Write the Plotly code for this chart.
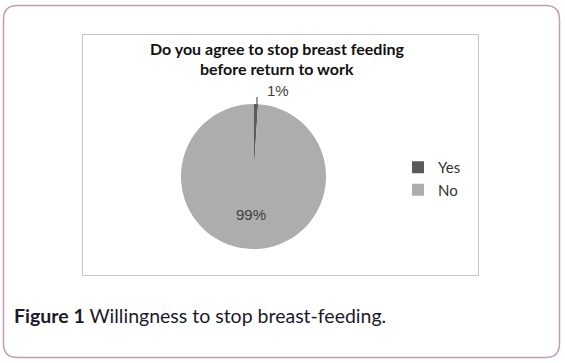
import plotly.graph_objects as go

labels = ["Yes", "No"]
values = [1, 99]
colors = ["#5a5a5a", "#adadad"]
title_lines = ["Do you agree to stop breast feeding", "before return to work"]
caption_bold = "Figure 1"
caption_rest = "Willingness to stop breast-feeding."

W, H = 565, 363


def px(x):
    return x / W


def py(y):
    return 1 - y / H


total = sum(values)
pct = [f"{round(v / total * 100)}%" for v in values]

fig = go.Figure(
    go.Pie(
        labels=labels,
        values=values,
        marker=dict(colors=colors, line=dict(width=0)),
        sort=False,
        direction="clockwise",
        rotation=0,
        textinfo="none",
        hoverinfo="label+percent",
        domain=dict(x=[px(180), px(327)], y=[py(249), py(104)]),
    )
)

# outer rounded frame
L, T, R, B, r = 3.5, 5.5, 559.5, 357.5, 14
path = (
    f"M {px(L + r)},{py(T)} L {px(R - r)},{py(T)} Q {px(R)},{py(T)} {px(R)},{py(T + r)} "
    f"L {px(R)},{py(B - r)} Q {px(R)},{py(B)} {px(R - r)},{py(B)} "
    f"L {px(L + r)},{py(B)} Q {px(L)},{py(B)} {px(L)},{py(B - r)} "
    f"L {px(L)},{py(T + r)} Q {px(L)},{py(T)} {px(L + r)},{py(T)} Z"
)
shapes = [
    dict(type="path", xref="paper", yref="paper", path=path,
         line=dict(color="#c49bb6", width=1.5)),
    dict(type="rect", xref="paper", yref="paper",
         x0=px(82.5), x1=px(478.5), y0=py(275.5), y1=py(34.5),
         line=dict(color="#c4c4c4", width=1)),
    # leader line for small slice label
    dict(type="line", xref="paper", yref="paper",
         x0=px(257), x1=px(257), y0=py(97), y1=py(106),
         line=dict(color="#5a5a5a", width=1.2)),
]

label_font = dict(family="Liberation Sans, Arial", size=15, color="#404040")
title_font = dict(family="Lato", size=16, color="#111111")
annotations = [
    dict(text=f"<b>{title_lines[0]}</b>", x=px(277), y=py(48.5), xref="paper", yref="paper",
         showarrow=False, font=title_font, xanchor="center", yanchor="middle"),
    dict(text=f"<b>{title_lines[1]}</b>", x=px(277), y=py(68.5), xref="paper", yref="paper",
         showarrow=False, font=title_font, xanchor="center", yanchor="middle"),
    dict(text=pct[0], x=px(278), y=py(90), xref="paper", yref="paper",
         showarrow=False, font=label_font, xanchor="center", yanchor="middle"),
    dict(text=pct[1], x=px(251), y=py(214), xref="paper", yref="paper",
         showarrow=False, font=label_font, xanchor="center", yanchor="middle"),
    dict(text=f"<b>{caption_bold}</b> {caption_rest}", x=px(12), y=py(315),
         xref="paper", yref="paper", showarrow=False, xanchor="left", yanchor="middle",
         font=dict(family="Lato", size=19.5, color="#1a1a2a")),
]

fig.update_layout(
    width=W, height=H, autosize=False,
    margin=dict(l=0, r=0, t=0, b=0),
    paper_bgcolor="white", plot_bgcolor="white",
    legend=dict(x=px(398), y=py(151), xanchor="left", yanchor="top",
                font=dict(family="Lato", size=15, color="#333333"),
                itemclick=False, bgcolor="rgba(0,0,0,0)"),
    shapes=shapes,
    annotations=annotations,
)

fig.write_html("out.html")
